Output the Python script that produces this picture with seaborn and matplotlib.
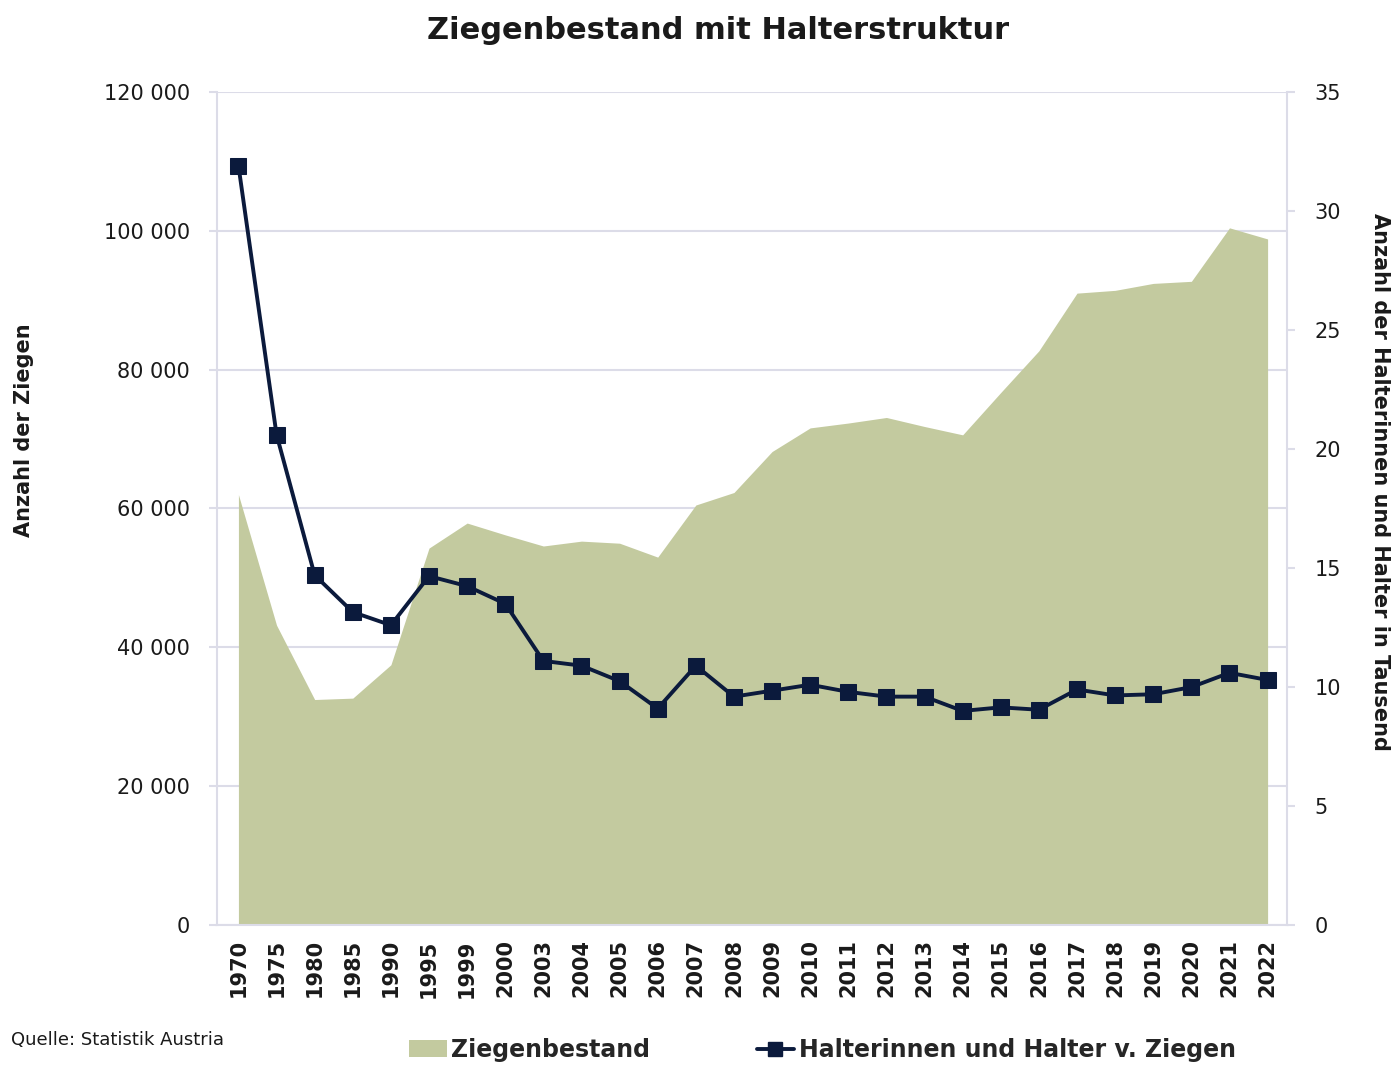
import seaborn as sns
import pandas as pd
import matplotlib.pyplot as plt
from matplotlib.patches import Patch
from matplotlib.lines import Line2D
from matplotlib.ticker import FuncFormatter

years = ['1970', '1975', '1980', '1985', '1990', '1995', '1999', '2000', '2003', '2004',
         '2005', '2006', '2007', '2008', '2009', '2010', '2011', '2012', '2013', '2014',
         '2015', '2016', '2017', '2018', '2019', '2020', '2021', '2022']
ziegen = [62000, 43200, 32500, 32700, 37500, 54300, 57900, 56200, 54600, 55300,
          55000, 53000, 60500, 62300, 68200, 71600, 72300, 73100, 71800, 70600,
          76700, 82700, 91000, 91400, 92400, 92700, 100400, 98800]
halter = [31.9, 20.6, 14.7, 13.15, 12.6, 14.66, 14.24, 13.5, 11.1, 10.9,
          10.25, 9.1, 10.9, 9.6, 9.85, 10.1, 9.8, 9.6, 9.6, 9.0,
          9.15, 9.05, 9.9, 9.65, 9.7, 10.0, 10.6, 10.3]

AREA = '#c3ca9f'
LINE = '#0b1a3c'
GRID = '#dcdce8'
TXT = '#1a1a1a'

sns.set_theme(style='white')
plt.rcParams['font.family'] = ['DejaVu Sans']

df = pd.DataFrame({'jahr': years, 'pos': range(len(years)), 'ziegen': ziegen, 'halter': halter})

fig = plt.figure(figsize=(13.94, 10.66), dpi=100)
ax = fig.add_axes([0.156, 0.132, 0.767, 0.782])
ax.fill_between(df['pos'], 0, df['ziegen'], color=AREA, linewidth=0, zorder=2)
ax.set_ylim(0, 120000)
ax.set_xlim(-0.55, 27.5)
ax.set_yticks(range(0, 120001, 20000))
ax.yaxis.set_major_formatter(FuncFormatter(lambda v, p: f'{int(v):,}'.replace(',', ' ')))
ax.grid(axis='y', color=GRID, linewidth=1.5)
ax.set_axisbelow(True)
ax.set_xticks(df['pos'])
ax.set_xticklabels(years, rotation=90, fontsize=15, fontweight='bold', color=TXT)
ax.tick_params(axis='y', labelsize=15, labelcolor=TXT, color=GRID, length=6, width=1.5, pad=14)
ax.tick_params(axis='x', length=0, pad=10)
ax.set_ylabel('Anzahl der Ziegen', fontsize=15, fontweight='bold', color=TXT)
ax.yaxis.set_label_coords(-0.172, 0.594)
for s in ['top', 'right']:
    ax.spines[s].set_visible(False)
for s in ['left', 'bottom']:
    ax.spines[s].set_color(GRID)
    ax.spines[s].set_linewidth(1.5)

ax2 = ax.twinx()
sns.lineplot(data=df, x='pos', y='halter', ax=ax2, color=LINE, linewidth=2.8,
             marker='s', markersize=11, markeredgecolor=LINE, zorder=5)
ax2.set_ylim(0, 35)
ax2.set_xlim(-0.55, 27.5)
ax2.set_yticks(range(0, 36, 5))
ax2.tick_params(axis='y', labelsize=15, labelcolor=TXT, color=GRID, length=6, width=1.5, pad=14)
ax2.set_ylabel('Anzahl der Halterinnen und Halter in Tausend', fontsize=15, fontweight='bold',
               color=TXT, rotation=-90, va='center')
ax2.yaxis.set_label_coords(1.087, 0.532)
ax2.set_xlabel('')
for s in ['top', 'left', 'bottom']:
    ax2.spines[s].set_visible(False)
ax2.spines['right'].set_color(GRID)
ax2.spines['right'].set_linewidth(1.5)

fig.suptitle('Ziegenbestand mit Halterstruktur', x=0.515, y=0.985, fontsize=22,
             fontweight='bold', color=TXT)

handles = [Patch(facecolor=AREA, edgecolor='none', label='Ziegenbestand'),
           Line2D([0], [0], color=LINE, linewidth=2.8, marker='s', markersize=10,
                  label='Halterinnen und Halter v. Ziegen')]
fig.legend(handles=handles, loc='center', bbox_to_anchor=(0.59, 0.015), ncol=2, frameon=False,
           handlelength=1.6, handletextpad=0.2, columnspacing=4.5,
           prop={'weight': 'bold', 'size': 17})
fig.text(0.008, 0.02, 'Quelle: Statistik Austria', fontsize=13, color=TXT)

fig.savefig('out.png', dpi=100)
